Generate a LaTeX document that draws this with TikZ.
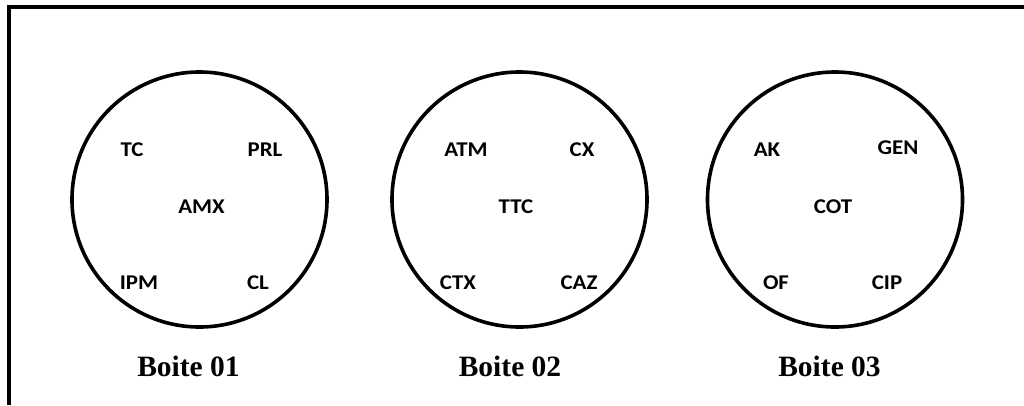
\documentclass[tikz,border=0pt]{standalone}
\usepackage{fontspec}
\setmainfont{Liberation Serif}
\newfontfamily\lblfont[FakeStretch=1.09]{Carlito}
\begin{document}
\begin{tikzpicture}[x=1pt,y=-1pt,
  box/.style={draw,circle,line width=3.6pt,minimum size=255pt,inner sep=0pt},
  lbl/.style={font=\lblfont\bfseries\fontsize{21}{25}\selectfont,inner sep=0pt},
  boxcap/.style={font=\bfseries\fontsize{29.5}{34}\selectfont,inner sep=0pt}]
\useasboundingbox (0,0) rectangle (1024,405);
\coordinate (fb) at (8.8,405);
\coordinate (fc) at (8.8,6.7);
\coordinate (fr) at (1024,6.7);
\draw[line width=3.8pt] (fb) -- (fc) -- (fr);
% circles
\node[box] (c1) at (199.5,199.5) {};
\node[box] (c2) at (519.5,199.5) {};
\node[box] (c3) at (835,199.5) {};
% circle 1
\node[lbl] (tc) at (132,149.5) {TC};
\node[lbl] (prl) at (265,149.5) {PRL};
\node[lbl] (amx) at (201.5,206.5) {AMX};
\node[lbl] (ipm) at (139,283) {IPM};
\node[lbl] (cl) at (258,283) {CL};
% circle 2
\node[lbl] (atm) at (466,149.5) {ATM};
\node[lbl] (cx) at (582,149.5) {CX};
\node[lbl] (ttc) at (516,206.5) {TTC};
\node[lbl] (ctx) at (458,283) {CTX};
\node[lbl] (caz) at (579,283) {CAZ};
% circle 3
\node[lbl] (ak) at (767,149.5) {AK};
\node[lbl] (gen) at (898,148) {GEN};
\node[lbl] (cot) at (833,206.5) {COT};
\node[lbl] (of) at (776,283) {OF};
\node[lbl] (cip) at (887,283) {CIP};
% captions
\node[boxcap] (b1) at (188.5,366.5) {Boite 01};
\node[boxcap] (b2) at (510,366.5) {Boite 02};
\node[boxcap] (b3) at (829.5,366.5) {Boite 03};
\end{tikzpicture}
\end{document}
